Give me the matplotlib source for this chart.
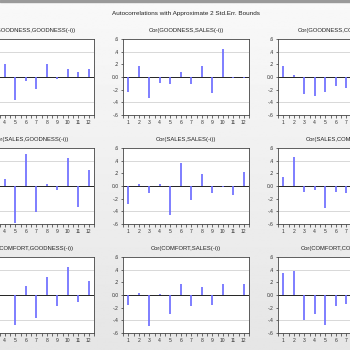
import numpy as np
import matplotlib
matplotlib.use("Agg")
import matplotlib.pyplot as plt

plt.rcParams["font.family"] = ["Liberation Sans", "DejaVu Sans"]

# cross-correlogram values, row = first series, col = lagged series
series = ["GOODNESS", "SALES", "COMFORT"]
lags = np.arange(1, 13)
cor = {
    ("GOODNESS", "GOODNESS"): [0.45, 0.10, -0.05, 0.205, -0.36, -0.06, -0.19, 0.205, -0.03, 0.125, 0.08, 0.13],
    ("GOODNESS", "SALES"):    [-0.24, 0.17, -0.33, -0.09, -0.115, 0.08, -0.105, 0.175, -0.26, 0.44, -0.02, -0.02],
    ("GOODNESS", "COMFORT"):  [0.17, 0.03, -0.27, -0.30, -0.23, -0.14, -0.18, 0.10, -0.05, 0.12, 0.04, 0.06],
    ("SALES", "GOODNESS"):    [-0.10, 0.05, 0.08, 0.11, -0.58, 0.505, -0.415, 0.035, -0.06, 0.44, -0.33, 0.25],
    ("SALES", "SALES"):       [-0.28, 0.03, -0.105, 0.03, -0.45, 0.37, -0.215, 0.195, -0.11, -0.015, -0.135, 0.225],
    ("SALES", "COMFORT"):     [0.14, 0.46, -0.10, -0.06, -0.35, -0.09, -0.115, 0.08, -0.05, 0.10, -0.04, 0.06],
    ("COMFORT", "GOODNESS"):  [0.12, -0.08, 0.05, 0.005, -0.48, 0.135, -0.36, 0.29, -0.18, 0.45, -0.105, 0.215],
    ("COMFORT", "SALES"):     [-0.16, 0.035, -0.49, 0.015, -0.295, 0.17, -0.17, 0.125, -0.16, 0.18, -0.005, 0.18],
    ("COMFORT", "COMFORT"):   [0.34, 0.375, -0.395, -0.295, -0.47, -0.18, -0.14, 0.05, 0.10, 0.08, -0.06, 0.04],
}
bound = 0.4
yticks = [-0.6, -0.4, -0.2, 0.0, 0.2, 0.4, 0.6]
ytick_labels = ["-.6", "-.4", "-.2", "0.0", ".2", ".4", ".6"]

W = H = 350.0
fig = plt.figure(figsize=(3.5, 3.5), dpi=100)

# gray gradient background, like the EViews window
bg = fig.add_axes([0, 0, 1, 1], zorder=-10)
grad = np.linspace(0.975, 0.90, 256).reshape(-1, 1)
bg.imshow(grad, cmap="gray", vmin=0, vmax=1, aspect="auto", extent=[0, 1, 0, 1])
bg.add_patch(plt.Rectangle((0, 1 - 2 / H), 1, 2 / H, color="#9a9a9a"))
bg.set_xlim(0, 1)
bg.set_ylim(0, 1)
bg.axis("off")

fig.text(186 / W, 1 - 14 / H, "Autocorrelations with Approximate 2 Std.Err. Bounds",
         ha="center", va="center", fontsize=4.6, color="#222222")

# the screenshot is cropped: left and right columns run off the edges
col_left = [-32, 123, 278]
row_top = [39, 148, 257]
aw, ah = 126, 76

for i, a in enumerate(series):
    for j, b in enumerate(series):
        x0, y0 = col_left[j], row_top[i]
        ax = fig.add_axes([x0 / W, 1 - (y0 + ah) / H, aw / W, ah / H])
        ax.set_facecolor("white")
        ax.axhline(bound, color="#d8d8d8", lw=0.7)
        ax.axhline(-bound, color="#d8d8d8", lw=0.7)
        ax.axhline(0, color="#222222", lw=0.7)
        ax.vlines(lags, 0, cor[(a, b)], color="#6e6eff", lw=1.25)
        ax.set_xlim(0.5, 12.5)
        ax.set_ylim(-0.6, 0.6)
        ax.set_yticks(yticks)
        ax.set_yticklabels(ytick_labels)
        ax.set_xticks(lags)
        ax.set_xticks(np.arange(0.5, 13, 1), minor=True)
        ax.tick_params(axis="both", labelsize=3.6, colors="#333333", length=1.8,
                       width=0.5, pad=1.5, direction="out")
        ax.tick_params(axis="x", which="minor", length=1.8, width=0.5, colors="#333333")
        for s in ax.spines.values():
            s.set_color("#444444")
            s.set_linewidth(0.6)
        ax.set_title(f"Cor({a},{b}(-i))", fontsize=4.2, color="#222222", pad=5)

        # labels that fall wholly outside the crop are not drawn
        if x0 < 0:
            ax.tick_params(axis="y", labelleft=False)
        px_per_lag = aw / 12.0
        for lab, k in zip(ax.get_xticklabels(), lags):
            xpix = x0 + (k - 0.5) * px_per_lag
            if xpix < 0 or xpix > W:
                lab.set_visible(False)

fig.savefig("out.png", dpi=100)
